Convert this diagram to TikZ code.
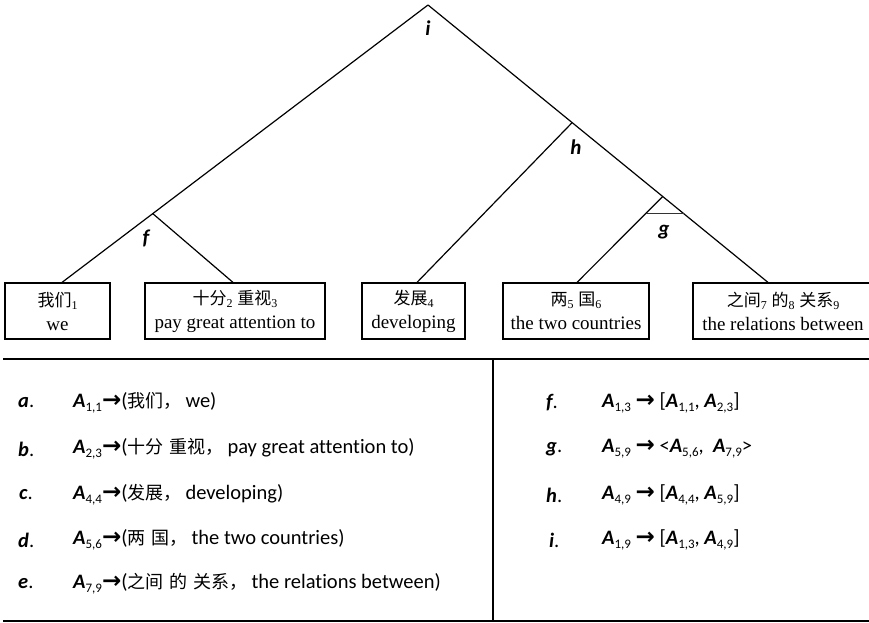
\documentclass[tikz,border=0pt]{standalone}
\usepackage{fontspec}
\setmainfont{Liberation Serif}
\newfontfamily\calfont[Ligatures=NoCommon]{Carlito}
\newfontfamily\cjkfont{Noto Sans CJK SC}
\newfontfamily\dvfont{DejaVu Sans}
\usetikzlibrary{calc}
\newcommand\CJ[1]{{\cjkfont\fontsize{18}{18}\selectfont #1}}
\newcommand\CB[1]{{\cjkfont\fontsize{17}{17}\selectfont #1}}
\newcommand\Bs[1]{\raisebox{-3pt}{\fontsize{12}{12}\selectfont #1}}
\newcommand\Ax[1]{{\bfseries\itshape A}\raisebox{-4pt}{\fontsize{13}{13}\selectfont #1}}
\newcommand\Arr{{\dvfont\bfseries\fontsize{23}{23}\selectfont →}}
\newcommand\Cm{\CJ{，}\hspace{4pt}}
\newcommand\Sp{\hspace{6pt}}
\begin{document}
\begin{tikzpicture}[x=1pt,y=-1pt,
  wbox/.style={draw,line width=1.2pt,inner sep=0pt,minimum height=56pt,align=center,
    font=\fontsize{19}{24}\selectfont},
  tlbl/.style={font=\calfont\bfseries\itshape\fontsize{21}{21}\selectfont,inner sep=0pt},
  branch/.style={line width=1.2pt},
  rowtxt/.style={anchor=west,inner sep=0pt,font=\calfont\fontsize{20.5}{20.5}\selectfont},
  rule/.style={line width=1.8pt}]
\useasboundingbox (0,0) rectangle (869,623);
% boxes
\node[wbox,minimum width=105pt] (b1) at (57.5,311) {\CB{我们}\Bs{1}\\we};
\node[wbox,minimum width=180pt] (b2) at (235,311) {\CB{十分}\Bs{2} \CB{重视}\Bs{3}\\pay great attention to};
\node[wbox,minimum width=103pt] (b3) at (413.5,311) {\CB{发展}\Bs{4}\\developing};
\node[wbox,minimum width=146pt] (b4) at (576,311) {\CB{两}\Bs{5} \CB{国}\Bs{6}\\the two countries};
\node[wbox,minimum width=180pt] (b5) at (783,311) {\CB{之间}\Bs{7} \CB{的}\Bs{8} \CB{关系}\Bs{9}\\the relations between};
% attachment points
\coordinate (t1) at ($(b1.north)+(4.5,0)$);
\coordinate (t2) at ($(b2.north)+(-2,0)$);
\coordinate (t3) at ($(b3.north)+(3.5,0)$);
\coordinate (t4) at ($(b4.north)+(1,0)$);
\coordinate (t5) at ($(b5.north)+(-15,0)$);
% tree nodes
\coordinate (i) at (428,5);
\coordinate (f) at ($(i)!0.752!(t1)$);
\coordinate (h) at ($(i)!0.424!(t5)$);
\coordinate (g) at ($(h)!0.4625!(t5)$);
\coordinate (ga) at ($(g)!0.2!(t4)$);
\coordinate (gb) at ($(g)!0.2!(t5)$);
\draw[branch] (i) -- (f) -- (t1);
\draw[branch] (f) -- (t2);
\draw[branch] (i) -- (h) -- (g) -- (t5);
\draw[branch] (h) -- (t3);
\draw[branch] (g) -- (t4);
\draw[line width=1.6pt,black!80] (ga) -- (gb);
\node[tlbl] (li) at (428,28) {i};
\node[tlbl] (lf) at (146,238) {f};
\node[tlbl] (lh) at (576,147) {h};
\node[tlbl] (lg) at (664,232) {g};
% rules
\draw[rule] (3,359) -- (869,359);
\draw[line width=1.2pt] (493,359) -- (493,621);
\draw[rule] (3,621) -- (869,621);
% left list
\node[rowtxt] (la) at (18,403) {{\bfseries\itshape a}.};
\node[rowtxt] (lb) at (18,449) {{\bfseries\itshape b}.};
\node[rowtxt] (lc) at (19,495) {{\bfseries\itshape c}.};
\node[rowtxt] (ld) at (18,540) {{\bfseries\itshape d}.};
\node[rowtxt] (le) at (18,584) {{\bfseries\itshape e}.};
\node[rowtxt] (ra) at (73,403) {\Ax{1,1}\Arr(\CJ{我们}\Cm we)};
\node[rowtxt] (rb) at (73,449) {\Ax{2,3}\Arr(\CJ{十分}\Sp\CJ{重视}\Cm pay great attention to)};
\node[rowtxt] (rc) at (73,495) {\Ax{4,4}\Arr(\CJ{发展}\Cm developing)};
\node[rowtxt] (rd) at (73,540) {\Ax{5,6}\Arr(\CJ{两}\Sp\CJ{国}\Cm the two countries)};
\node[rowtxt] (re) at (73,584) {\Ax{7,9}\Arr(\CJ{之间}\Sp\CJ{的}\Sp\CJ{关系}\Cm the relations between)};
% right list
\node[rowtxt] (lf2) at (546,403) {{\bfseries\itshape f}.};
\node[rowtxt] (lg2) at (546,449) {{\bfseries\itshape g}.};
\node[rowtxt] (lh2) at (546,495) {{\bfseries\itshape h}.};
\node[rowtxt] (li2) at (549,540) {{\bfseries\itshape i}.};
\node[rowtxt] (rf) at (602,403) {\Ax{1,3} \Arr{} [\Ax{1,1}, \Ax{2,3}]};
\node[rowtxt] (rg) at (602,449) {\Ax{5,9} \Arr{} <\Ax{5,6},\ \ \Ax{7,9}>};
\node[rowtxt] (rh) at (602,495) {\Ax{4,9} \Arr{} [\Ax{4,4}, \Ax{5,9}]};
\node[rowtxt] (ri) at (602,540) {\Ax{1,9} \Arr{} [\Ax{1,3}, \Ax{4,9}]};
\end{tikzpicture}
\end{document}
